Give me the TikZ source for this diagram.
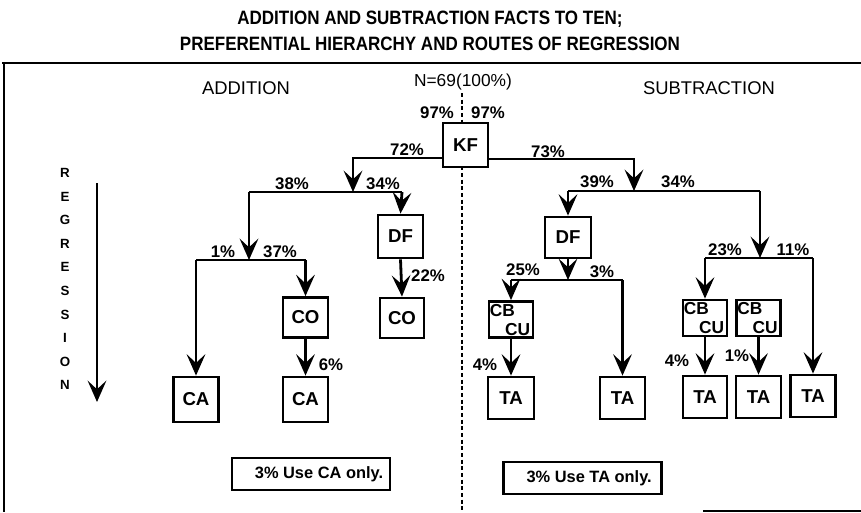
\documentclass[tikz,border=0pt]{standalone}
\usepackage{fontspec}
\setmainfont{Liberation Sans}
\newfontfamily\ttlfont[FakeStretch=0.88]{Liberation Sans}
\usetikzlibrary{arrows.meta}
\begin{document}
\begin{tikzpicture}[x=0.75pt,y=-0.75pt,
  ln/.style={line width=2.1pt},
  arr/.style={ln,-{Stealth[length=16pt,width=14pt,inset=6.5pt]}},
  bx/.style={draw,line width=2.1pt,fill=white,inner sep=0pt,font=\bfseries\fontsize{14}{15}\selectfont},
  cb/.style={bx,minimum width=44*0.75pt,minimum height=36*0.75pt},
  pct/.style={inner sep=0pt,font=\bfseries\fontsize{12.6}{13}\selectfont},
  hd/.style={inner sep=0pt,font=\fontsize{13.8}{15}\selectfont},
  ttl/.style={inner sep=0pt,font=\ttlfont\bfseries\fontsize{14.5}{15}\selectfont},
  rg/.style={inner sep=0pt,font=\bfseries\fontsize{10}{11}\selectfont},
  note/.style={draw,line width=1.9pt,inner sep=0pt,minimum width=158*0.75pt,minimum height=32*0.75pt,font=\bfseries\fontsize{12.3}{13}\selectfont}]
\useasboundingbox (0,0) rectangle (861,512);
% title
\node[ttl] (t1) at (430,19) {ADDITION AND SUBTRACTION FACTS TO TEN;};
\node[ttl] (t2) at (430,44) {PREFERENTIAL HIERARCHY AND ROUTES OF REGRESSION};
% frame
\coordinate (f1) at (2,63); \coordinate (f2) at (861,63);
\coordinate (f3) at (4,63); \coordinate (f4) at (4,512);
\coordinate (f5) at (703,511); \coordinate (f6) at (861,511);
\draw[ln] (f1) -- (f2);
\draw[ln] (f3) -- (f4);
\draw[ln] (f5) -- (f6);
% headings
\node[hd] (add) at (246,88) {ADDITION};
\node[hd] (sub) at (709,88) {SUBTRACTION};
\node[hd,font=\fontsize{13}{14}\selectfont] (nn) at (463,82) {N=69(100\%)};
% centre dashed line
\coordinate (d1) at (462,93); \coordinate (d2) at (462,512);
\draw[line width=2pt,dash pattern=on 3pt off 2pt] (d1) -- (d2);
% regression
\foreach \l [count=\i] in {R,E,G,R,E,S,S,I,O,N}{
  \node[rg] (r\i) at (65,{173+(\i-1)*23.6}) {\l};
}
\coordinate (rtop) at (97,183); \coordinate (rbot) at (97,402);
\draw[arr] (rtop) -- (rbot);
% boxes
\node[bx,minimum width=45*0.75pt,minimum height=44*0.75pt] (KF) at (465.5,145) {KF};
\node[bx,minimum width=45*0.75pt,minimum height=43*0.75pt] (DFL) at (400.5,236.5) {DF};
\node[bx,minimum width=45*0.75pt,minimum height=40*0.75pt] (CO1) at (305.5,317.5) {CO};
\node[bx,minimum width=44*0.75pt,minimum height=40*0.75pt] (CO2) at (402,318) {CO};
\node[bx,minimum width=45*0.75pt,minimum height=45*0.75pt] (CA1) at (196,399.5) {CA};
\node[bx,minimum width=45*0.75pt,minimum height=45*0.75pt] (CA2) at (305.5,399.5) {CA};
\node[bx,minimum width=46*0.75pt,minimum height=41*0.75pt] (DFR) at (568,237.5) {DF};
\node[cb] (CB1) at (511,319.5) {};
\node[cb] (CB2) at (705,318) {};
\node[cb] (CB3) at (758.5,318) {};
\foreach \b in {CB1,CB2,CB3}{
  \node[pct,font=\bfseries\fontsize{13}{13}\selectfont,anchor=north west] (\b t) at ([xshift=1.5pt,yshift=-3pt]\b.north west) {CB};
  \node[pct,font=\bfseries\fontsize{13}{13}\selectfont,anchor=south east] (\b u) at ([xshift=-3pt,yshift=2.5pt]\b.south east) {CU};
}
\node[bx,minimum width=46*0.75pt,minimum height=42*0.75pt] (TA1) at (511,398) {TA};
\node[bx,minimum width=45*0.75pt,minimum height=42*0.75pt] (TA2) at (622.5,398) {TA};
\node[bx,minimum width=44*0.75pt,minimum height=42*0.75pt] (TA3) at (705,397) {TA};
\node[bx,minimum width=45*0.75pt,minimum height=42*0.75pt] (TA4) at (758.5,397) {TA};
\node[bx,minimum width=45*0.75pt,minimum height=42*0.75pt] (TA5) at (813,396) {TA};
% junction coordinates
\coordinate (kl) at (353,158); \coordinate (j1) at (353,192);
\coordinate (h1a) at (249,192); \coordinate (h1b) at (402,192);
\coordinate (j2) at (249,260);
\coordinate (h2a) at (196,260); \coordinate (h2b) at (305.5,260);
\coordinate (kr) at (634,159); \coordinate (j3) at (634,191);
\coordinate (h3a) at (568,191); \coordinate (h3b) at (760,191);
\coordinate (j4) at (760,258);
\coordinate (h4a) at (705,258); \coordinate (h4b) at (813,258);
\coordinate (j5) at (568,280);
\coordinate (h5a) at (511,280); \coordinate (h5b) at (622.5,280);
% addition connectors
\draw[arr] (KF.west |- kl) -- (kl) -- (j1);
\draw[ln] (h1a) -- (h1b);
\draw[arr] (h1a) -- (j2);
\draw[arr] (h1b) -- (DFL.north);
\draw[ln] (h2a) -- (h2b);
\draw[arr] (h2a) -- (CA1.north);
\draw[arr] (h2b) -- (CO1.north);
\draw[arr] (CO1.south) -- (CA2.north);
\draw[arr] (DFL.south) -- (CO2.north);
% subtraction connectors
\draw[arr] (KF.east |- kr) -- (kr) -- (j3);
\draw[ln] (h3a) -- (h3b);
\draw[arr] (h3a) -- (DFR.north);
\draw[arr] (h3b) -- (j4);
\draw[ln] (h4a) -- (h4b);
\draw[arr] (h4a) -- (CB2.north);
\draw[arr] (h4b) -- (TA5.north);
\draw[arr] (DFR.south) -- (j5);
\draw[ln] (h5a) -- (h5b);
\draw[arr] (h5a) -- (CB1.north);
\draw[arr] (h5b) -- (TA2.north);
\draw[arr] (CB1.south) -- (TA1.north);
\draw[arr] (CB2.south) -- (TA3.north);
\draw[arr] (CB3.south) -- (TA4.north);
% percentages
\node[pct] (p97l) at (437,113) {97\%};
\node[pct] (p97r) at (488,113) {97\%};
\node[pct] (p72) at (407,150) {72\%};
\node[pct] (p73) at (548,152) {73\%};
\node[pct] (p38) at (292,184) {38\%};
\node[pct] (p34l) at (383,184) {34\%};
\node[pct] (p1a) at (223,252) {1\%};
\node[pct] (p37) at (280,252) {37\%};
\node[pct] (p22) at (428,276) {22\%};
\node[pct] (p6) at (331,365) {6\%};
\node[pct] (p39) at (597,182) {39\%};
\node[pct] (p34r) at (678,182) {34\%};
\node[pct] (p25) at (523,270) {25\%};
\node[pct] (p3) at (602,272) {3\%};
\node[pct] (p23) at (725,250) {23\%};
\node[pct] (p11) at (793,250) {11\%};
\node[pct] (p4a) at (485,365) {4\%};
\node[pct] (p4b) at (677,361) {4\%};
\node[pct] (p1b) at (737,356) {1\%};
% notes
\node[note] (nca) at (311,474) {\hspace*{12pt}3\% Use CA only.};
\node[note] (nta) at (582.5,478) {\hspace*{10pt}3\% Use TA only.};
\end{tikzpicture}
\end{document}
